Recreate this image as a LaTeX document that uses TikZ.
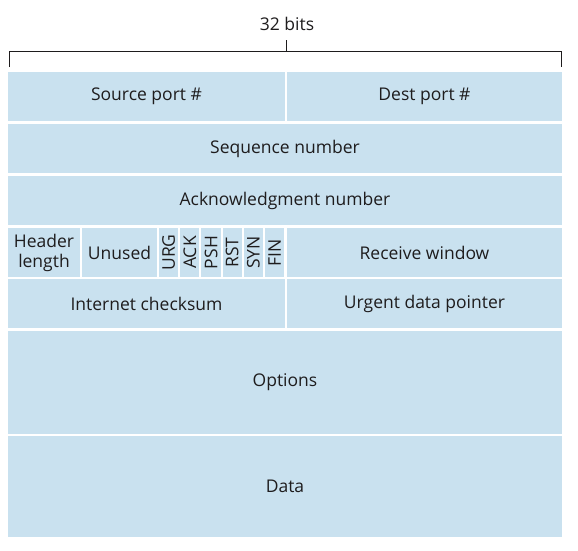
\documentclass[tikz,border=0pt]{standalone}
\usepackage{fontspec}
\setmainfont{Open Sans}
\usetikzlibrary{positioning}
\definecolor{segblue}{RGB}{201,225,239}
\definecolor{inkgray}{RGB}{30,28,29}

\begin{document}
\begin{tikzpicture}[x=1pt,y=-1pt]
\tikzstyle{field}=[rectangle, fill=segblue, inner sep=0pt, text=inkgray,
    font=\fontsize{17.5}{20}\selectfont, align=center]
\tikzstyle{flag}=[field, minimum width=19.2pt, minimum height=49pt]

\useasboundingbox (0,0) rectangle (578,550);

% bracket for the word width
\node[text=inkgray, font=\fontsize{17.5}{20}\selectfont] (width) at (287,24) {32 bits};
\coordinate (bl) at (9,67);
\coordinate (br) at (561,67);
\coordinate (bm) at (286,51);
\coordinate (bt) at (286,40);
\draw[inkgray, line width=0.9pt] (bl) -- (bl |- bm) -- (br |- bm) -- (br);
\draw[inkgray, line width=0.9pt] (bm) -- (bt);

% row 1
\node[field, minimum width=277pt, minimum height=49pt] (src) at (146.5,96.5) {Source port \#};
\node[field, minimum width=275pt, minimum height=49pt] (dst) at (424.5,96.5) {Dest port \#};

% row 2 and 3
\node[field, minimum width=554pt, minimum height=49pt] (seq) at (285,148.5) {Sequence number};
\node[field, minimum width=554pt, minimum height=49pt] (ack) at (285,200.5) {Acknowledgment number};

% row 4
\node[field, minimum width=72pt, minimum height=49pt] (hlen) at (44,252.5) {Header\\length};
\node[field, minimum width=75pt, minimum height=49pt] (unused) at (119.5,252.5) {Unused};
\foreach \f [count=\i from 0] in {URG,ACK,PSH,RST,SYN,FIN}
  \node[flag] (\f) at (168.6+21.2*\i,252.5) {\rotatebox{90}{\f}};
\node[field, minimum width=275pt, minimum height=49pt] (rwnd) at (424.5,252.5) {Receive window};

% row 5
\node[field, minimum width=277pt, minimum height=49pt] (csum) at (146.5,303.5) {Internet checksum};
\node[field, minimum width=275pt, minimum height=49pt] (urg) at (424.5,303.5) {Urgent data pointer};

% options and data
\node[field, minimum width=554pt, minimum height=103pt] (opt) at (285,382.5) {Options};
\node[field, minimum width=554pt, minimum height=101pt] (data) at (285,486.5) {Data};
\end{tikzpicture}
\end{document}
